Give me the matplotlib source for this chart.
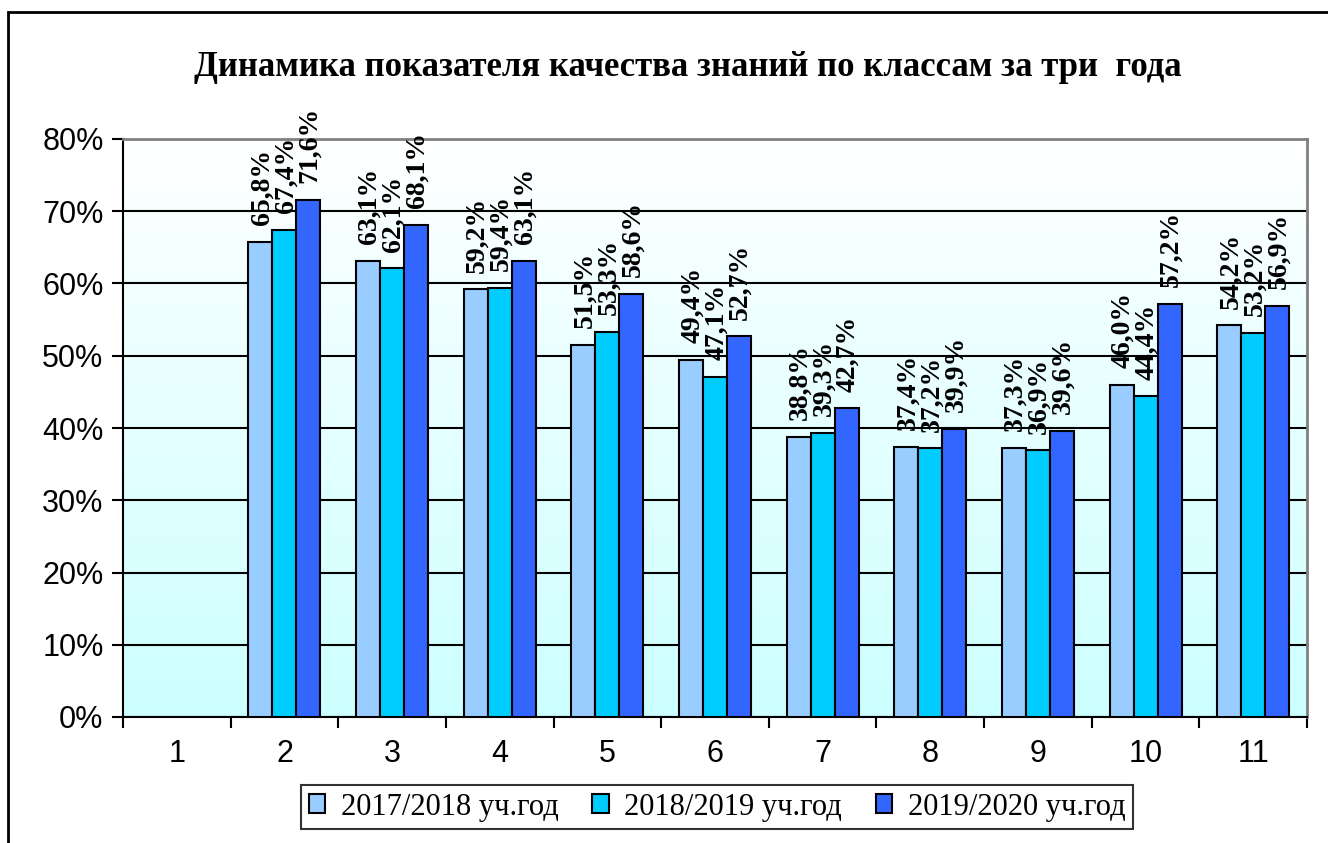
import numpy as np
import matplotlib
matplotlib.use("Agg")
import matplotlib.pyplot as plt
from matplotlib.patches import Rectangle

# Knowledge-quality share by grade, three school years
grades = ["1", "2", "3", "4", "5", "6", "7", "8", "9", "10", "11"]
series_names = ["2017/2018 уч.год", "2018/2019 уч.год", "2019/2020 уч.год"]
y2017 = [np.nan, 65.8, 63.1, 59.2, 51.5, 49.4, 38.8, 37.4, 37.3, 46.0, 54.2]
y2018 = [np.nan, 67.4, 62.1, 59.4, 53.3, 47.1, 39.3, 37.2, 36.9, 44.4, 53.2]
y2019 = [np.nan, 71.6, 68.1, 63.1, 58.6, 52.7, 42.7, 39.9, 39.6, 57.2, 56.9]
colors = ["#99CCFF", "#00CCFF", "#3366FF"]
yticks = [0, 10, 20, 30, 40, 50, 60, 70, 80]

serif = "Liberation Serif"
sans = "Liberation Sans"

fig = plt.figure(figsize=(13.28, 8.43), dpi=100)
ax = fig.add_axes([123 / 1328, 1 - 717 / 843, (1307 - 123) / 1328, (717 - 139) / 843])

# outer chart frame
fig.patches.append(Rectangle((8 / 1328, -0.05), 1.1, 1 - 12 / 843 + 0.05,
                             transform=fig.transFigure, fill=False,
                             edgecolor="black", linewidth=2, zorder=0))

# gradient plot-area background (white at top -> pale cyan at bottom)
grad = np.linspace(0, 1, 256).reshape(-1, 1)
top = np.array([1.0, 1.0, 1.0])
bot = np.array([0xCC, 0xFF, 0xFF]) / 255
img = top * (1 - grad[..., None]) + bot * grad[..., None]
ax.imshow(img, extent=[0, 1, 0, 1], transform=ax.transAxes, aspect="auto",
          zorder=0, origin="upper")

n = len(grades)
x = np.arange(n)
w = 0.223
offsets = [-w, 0, w]
for data, col, off, name in zip([y2017, y2018, y2019], colors, offsets, series_names):
    vals = np.array(data, dtype=float)
    ax.bar(x + off, vals, width=w, color=col, edgecolor="black",
           linewidth=1.5, zorder=3, label=name)
    for xi, v in zip(x + off, vals):
        if np.isnan(v):
            continue
        ax.annotate(f"{v:.1f}%".replace(".", ","), (xi, v),
                    xytext=(1, 12), textcoords="offset points",
                    rotation=90, ha="center", va="bottom",
                    fontsize=20, fontweight="bold", family=serif, zorder=4)

ax.set_xlim(-0.5, n - 0.5)
ax.set_ylim(0, 80)
ax.set_yticks(yticks)
ax.set_yticklabels([f"{t}%" for t in yticks], family=sans, fontsize=22)
ax.yaxis.grid(True, color="black", linewidth=1.5, zorder=1)
ax.set_axisbelow(True)

ax.set_xticks(x)
ax.set_xticklabels(grades, family=sans, fontsize=22)
ax.tick_params(axis="x", which="major", length=0, pad=16)
ax.set_xticks(np.arange(-0.5, n, 1.0), minor=True)
ax.tick_params(axis="x", which="minor", length=8, width=1.5, direction="out")
ax.tick_params(axis="y", length=8, width=1.5, direction="out", pad=6)

for s in ["top", "right"]:
    ax.spines[s].set_color("#808080")
    ax.spines[s].set_linewidth(2)
for s in ["left", "bottom"]:
    ax.spines[s].set_color("black")
    ax.spines[s].set_linewidth(1.5)

fig.text(688 / 1328, 1 - 68 / 843, "Динамика показателя качества знаний по классам за три  года",
         ha="center", va="center", family=serif, fontweight="bold", fontsize=25)

leg = fig.legend(loc="center", bbox_to_anchor=(717 / 1328, 1 - 807 / 843), ncol=3,
                 prop={"family": serif, "size": 22}, frameon=True, fancybox=False,
                 edgecolor="black", handlelength=0.55, handleheight=0.55,
                 handletextpad=0.5, columnspacing=1.1, borderpad=0.25)
leg.get_frame().set_linewidth(1.5)

fig.savefig("out.png", dpi=100)
